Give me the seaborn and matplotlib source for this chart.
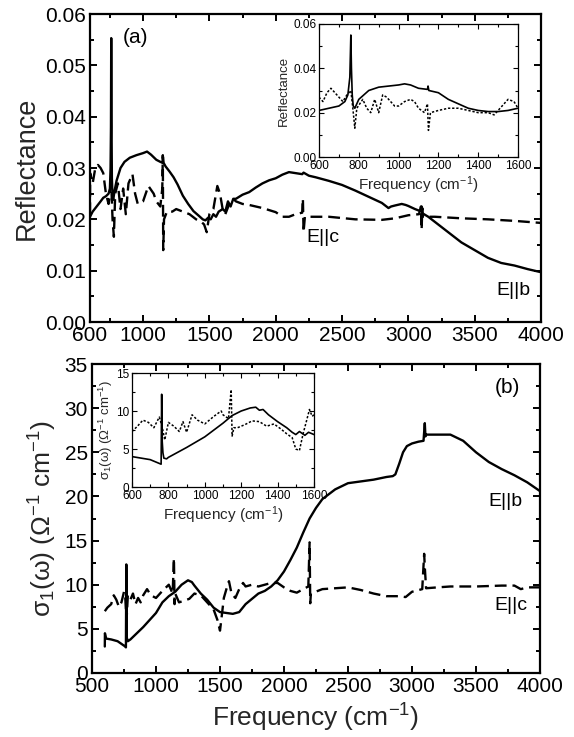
import numpy as np
import pandas as pd
import seaborn as sns
import matplotlib
matplotlib.use("Agg")
import matplotlib.pyplot as plt
from matplotlib.ticker import MultipleLocator, FixedLocator

# ---------------- data: panel (a) reflectance ----------------
ra_b_x = [600, 620, 650, 680, 700, 720, 740, 750, 755, 758, 760, 762, 765, 770, 775, 785, 800, 830, 860,
          900, 950, 1000, 1030, 1060, 1100, 1130, 1148, 1150, 1155, 1170, 1200, 1230, 1260, 1300, 1340,
          1380, 1420, 1450, 1470, 1490, 1510, 1530, 1550, 1570, 1600, 1620, 1640, 1660, 1680, 1700, 1750,
          1800, 1850, 1900, 1950, 2000, 2050, 2100, 2150, 2200, 2210, 2250, 2300, 2400, 2500, 2600, 2700,
          2800, 2850, 2870, 2900, 2950, 2980, 3000, 3050, 3090, 3100, 3105, 3150, 3200, 3300, 3400, 3500,
          3600, 3700, 3800, 3900, 4000]
ra_b_y = [0.0205, 0.0215, 0.0225, 0.0235, 0.0242, 0.0245, 0.0250, 0.0260, 0.0300, 0.0380, 0.0553, 0.0400,
          0.0280, 0.0245, 0.0238, 0.0255, 0.0275, 0.0300, 0.0312, 0.0320, 0.0325, 0.0329, 0.0332, 0.0326,
          0.0316, 0.0312, 0.0310, 0.0322, 0.0310, 0.0303, 0.0293, 0.0282, 0.0268, 0.0246, 0.0230, 0.0216,
          0.0207, 0.0200, 0.0198, 0.0203, 0.0200, 0.0210, 0.0205, 0.0215, 0.0220, 0.0215, 0.0235, 0.0225,
          0.0240, 0.0240, 0.0248, 0.0253, 0.0262, 0.0270, 0.0276, 0.0280, 0.0287, 0.0292, 0.0290, 0.0288,
          0.0291, 0.0285, 0.0282, 0.0275, 0.0267, 0.0256, 0.0244, 0.0232, 0.0222, 0.0225, 0.0227, 0.0230,
          0.0228, 0.0226, 0.0220, 0.0216, 0.0225, 0.0212, 0.0205, 0.0195, 0.0175, 0.0155, 0.0140, 0.0125,
          0.0115, 0.0110, 0.0103, 0.0097]

ra_c_x = [600, 601, 610, 620, 640, 660, 680, 700, 720, 740, 760, 770, 780, 790, 810, 830, 850, 870, 890,
          920, 940, 960, 1000, 1040, 1080, 1100, 1130, 1145, 1149, 1152, 1158, 1180, 1220, 1250, 1300, 1350,
          1400, 1440, 1460, 1480, 1500, 1530, 1560, 1580, 1600, 1620, 1650, 1680, 1700, 1750, 1800, 1900,
          2000, 2050, 2100, 2150, 2200, 2205, 2210, 2220, 2300, 2400, 2600, 2800, 2900, 3000, 3080, 3095,
          3100, 3105, 3110, 3200, 3400, 3600, 3800, 4000]
ra_c_y = [0.0210, 0.0290, 0.0280, 0.0270, 0.0300, 0.0306, 0.0300, 0.0290, 0.0250, 0.0230, 0.0270, 0.0200,
          0.0166, 0.0250, 0.0270, 0.0220, 0.0260, 0.0210, 0.0270, 0.0288, 0.0250, 0.0230, 0.0235, 0.0265,
          0.0250, 0.0235, 0.0225, 0.0260, 0.0325, 0.0140, 0.0200, 0.0215, 0.0215, 0.0220, 0.0215, 0.0210,
          0.0200, 0.0195, 0.0190, 0.0175, 0.0210, 0.0220, 0.0265, 0.0250, 0.0220, 0.0210, 0.0230, 0.0240,
          0.0235, 0.0230, 0.0228, 0.0222, 0.0214, 0.0205, 0.0205, 0.0210, 0.0213, 0.0240, 0.0175, 0.0205,
          0.0205, 0.0205, 0.0200, 0.0199, 0.0202, 0.0208, 0.0210, 0.0225, 0.0180, 0.0222, 0.0205, 0.0205,
          0.0202, 0.0200, 0.0197, 0.0193]

# inset (a): 600-1600
ia_b_x = [600, 650, 700, 730, 745, 755, 760, 763, 767, 772, 780, 800, 850, 900, 950, 1000, 1030, 1060,
          1100, 1145, 1148, 1152, 1200, 1250, 1300, 1350, 1400, 1450, 1500, 1550, 1600]
ia_b_y = [0.021, 0.022, 0.023, 0.025, 0.028, 0.036, 0.055, 0.040, 0.028, 0.023, 0.022, 0.026, 0.030,
          0.0315, 0.032, 0.0325, 0.033, 0.0325, 0.031, 0.0305, 0.032, 0.030, 0.029, 0.026, 0.024, 0.022,
          0.021, 0.0205, 0.0205, 0.021, 0.022]
ia_c_x = [600, 620, 640, 660, 680, 700, 720, 740, 760, 770, 780, 790, 820, 840, 860, 880, 900, 920, 940,
          960, 980, 1000, 1030, 1060, 1080, 1100, 1130, 1145, 1150, 1160, 1200, 1250, 1300, 1350, 1400,
          1450, 1480, 1500, 1530, 1550, 1580, 1600]
ia_c_y = [0.027, 0.025, 0.029, 0.031, 0.029, 0.027, 0.025, 0.028, 0.030, 0.022, 0.013, 0.022, 0.026,
          0.022, 0.020, 0.026, 0.020, 0.028, 0.027, 0.025, 0.023, 0.023, 0.025, 0.026, 0.025, 0.022, 0.020,
          0.024, 0.012, 0.020, 0.021, 0.022, 0.022, 0.021, 0.020, 0.020, 0.019, 0.021, 0.024, 0.026, 0.025,
          0.022]

# ---------------- data: panel (b) conductivity ----------------
sb_b_x = [600, 601, 610, 650, 700, 740, 760, 765, 768, 772, 780, 800, 900, 1000, 1050, 1100, 1150, 1200,
          1250, 1280, 1300, 1350, 1400, 1450, 1500, 1550, 1600, 1650, 1700, 1750, 1800, 1850, 1900, 1950,
          2000, 2050, 2100, 2150, 2200, 2250, 2300, 2400, 2500, 2600, 2700, 2800, 2850, 2870, 2900, 2930,
          2960, 3000, 3050, 3090, 3100, 3105, 3110, 3200, 3300, 3400, 3500, 3600, 3700, 3800, 3900, 4000]
sb_b_y = [3.0, 4.5, 3.9, 3.8, 3.6, 3.2, 3.0, 2.9, 12.3, 4.0, 3.6, 3.8, 5.2, 6.8, 8.0, 8.7, 9.2, 10.0,
          10.5, 10.3, 9.9, 9.0, 8.3, 7.4, 6.9, 6.8, 6.7, 6.9, 7.8, 8.4, 9.0, 9.3, 9.8, 10.5, 11.5, 12.8,
          14.2, 15.9, 17.5, 18.7, 19.7, 20.8, 21.5, 21.7, 21.9, 22.2, 22.3, 22.5, 23.7, 25.0, 25.7, 26.0,
          26.2, 26.3, 28.3, 26.8, 27.0, 27.0, 27.0, 26.3, 25.0, 23.9, 23.1, 22.4, 21.6, 20.6]

sb_c_x = [600, 620, 650, 670, 690, 710, 730, 750, 760, 770, 780, 800, 820, 840, 860, 880, 900, 930, 960,
          1000, 1050, 1100, 1130, 1140, 1145, 1150, 1180, 1220, 1260, 1300, 1350, 1400, 1450, 1480, 1500,
          1510, 1530, 1550, 1570, 1590, 1620, 1650, 1680, 1700, 1750, 1800, 1850, 1900, 1950, 2000, 2050,
          2100, 2150, 2190, 2200, 2205, 2210, 2300, 2400, 2500, 2600, 2700, 2800, 2900, 2950, 3000, 3080,
          3095, 3100, 3110, 3200, 3300, 3500, 3700, 3800, 3850, 3900, 4000]
sb_c_y = [7.0, 7.4, 7.8, 8.8, 8.3, 7.5, 8.0, 9.2, 8.5, 6.0, 8.8, 8.3, 9.0, 7.8, 8.5, 8.0, 8.8, 9.5, 8.8,
          8.5, 9.3, 10.0, 9.0, 13.0, 7.8, 9.0, 8.0, 8.2, 8.4, 9.0, 8.8, 8.0, 7.2, 6.0, 4.8, 6.0, 8.5, 9.5,
          10.4, 9.0, 8.5, 9.5, 10.2, 9.8, 10.0, 9.8, 10.0, 10.2, 10.2, 9.7, 9.3, 9.1, 9.5, 9.8, 14.8, 7.9,
          9.0, 9.5, 9.6, 9.7, 9.4, 9.0, 8.7, 8.7, 8.6, 9.2, 9.5, 13.5, 12.0, 9.6, 9.7, 9.8, 9.8, 9.9, 9.9,
          9.5, 9.7, 9.7]

# inset (b): 600-1600
ib_b_x = [600, 650, 700, 740, 760, 763, 766, 770, 775, 790, 800, 900, 1000, 1100, 1150, 1200, 1250, 1280,
          1300, 1320, 1350, 1400, 1450, 1480, 1500, 1520, 1550, 1570, 1600]
ib_b_y = [4.0, 3.8, 3.6, 3.2, 3.0, 12.2, 6.0, 4.5, 3.8, 3.7, 3.9, 5.2, 6.6, 8.4, 9.4, 10.0, 10.4, 10.5,
          10.1, 10.2, 9.5, 8.6, 7.8, 7.2, 6.9, 7.3, 6.8, 7.2, 6.9]
ib_c_x = [600, 630, 660, 690, 720, 750, 765, 780, 800, 830, 860, 880, 900, 930, 960, 1000, 1050, 1090,
          1100, 1130, 1145, 1150, 1160, 1180, 1220, 1260, 1300, 1340, 1380, 1420, 1450, 1480, 1500, 1520,
          1540, 1560, 1575, 1590, 1600]
ib_c_y = [7.3, 8.0, 8.8, 8.5, 7.8, 9.2, 8.0, 6.2, 8.5, 8.0, 7.3, 8.6, 7.2, 9.5, 8.8, 8.3, 9.3, 10.0,
          9.5, 9.0, 12.8, 6.7, 7.8, 7.8, 8.2, 8.7, 8.6, 8.0, 8.3, 7.6, 7.0, 6.5, 5.0, 4.8, 7.0, 8.8, 10.2,
          9.3, 9.5]

# ---------------- style ----------------
sns.set_theme(style="ticks")
plt.rcParams['font.family'] = ['Liberation Sans', 'DejaVu Sans']
plt.rcParams['mathtext.fontset'] = 'custom'
plt.rcParams['mathtext.rm'] = 'Liberation Sans'
plt.rcParams['mathtext.it'] = 'Liberation Sans'
plt.rcParams['mathtext.bf'] = 'Liberation Sans:bold'
plt.rcParams['axes.linewidth'] = 1.6
plt.rcParams['axes.edgecolor'] = 'black'
plt.rcParams['text.color'] = 'black'
plt.rcParams['xtick.color'] = 'black'
plt.rcParams['ytick.color'] = 'black'

fig = plt.figure(figsize=(5.74, 7.37), dpi=100)
W, H = 574, 737

def add_axes_px(l, t, r, b):
    return fig.add_axes([l / W, 1 - b / H, (r - l) / W, (b - t) / H])

def style_axes(ax, big=True):
    for s in ax.spines.values():
        s.set_visible(True)
        s.set_linewidth(1.6 if big else 0.9)
        s.set_color('black')
    ax.tick_params(which='both', direction='in', top=True, right=True,
                   width=1.4 if big else 0.8, colors='black')
    ax.tick_params(which='major', length=5 if big else 3.5,
                   labelsize=15 if big else 8.5, pad=3 if big else 2)
    ax.tick_params(which='minor', length=3 if big else 2)

def line(ax, x, y, dashed=False, lw=1.6, ls=None):
    df = pd.DataFrame({'x': x, 'y': y})
    kw = {}
    if ls is not None:
        kw['linestyle'] = ls
    elif dashed:
        kw['linestyle'] = (0, (5, 2.5))
    sns.lineplot(data=df, x='x', y='y', ax=ax, estimator=None, sort=False,
                 color='black', lw=lw, **kw)

# ---------------- panel (a) ----------------
axa = add_axes_px(90, 14, 541, 322)
line(axa, ra_b_x, ra_b_y, lw=1.7)
line(axa, ra_c_x, ra_c_y, dashed=True, lw=1.7)
axa.set_xlim(600, 4000)
axa.set_ylim(0, 0.06)
axa.xaxis.set_major_locator(FixedLocator([600, 1000, 1500, 2000, 2500, 3000, 3500, 4000]))
axa.xaxis.set_minor_locator(MultipleLocator(250))
axa.yaxis.set_major_locator(MultipleLocator(0.01))
axa.yaxis.set_minor_locator(MultipleLocator(0.005))
axa.yaxis.set_major_formatter(matplotlib.ticker.FormatStrFormatter('%.2f'))
style_axes(axa)
axa.set_xlabel('')
axa.set_ylabel('Reflectance', fontsize=19.5, labelpad=4)
axa.text(0.1, 0.955, '(a)', transform=axa.transAxes, fontsize=15, ha='center', va='top')
axa.text(2230, 0.0165, 'E||c', fontsize=14, ha='left', va='center')
axa.text(3660, 0.0062, 'E||b', fontsize=14, ha='left', va='center')

# inset (a)
iaa = add_axes_px(319, 24, 518, 157)
line(iaa, ia_b_x, ia_b_y, lw=1.2)
line(iaa, ia_c_x, ia_c_y, lw=1.1, ls=(0, (1.5, 1.2)))
iaa.set_xlim(600, 1600)
iaa.set_ylim(0, 0.06)
iaa.xaxis.set_major_locator(MultipleLocator(200))
iaa.xaxis.set_minor_locator(MultipleLocator(100))
iaa.yaxis.set_major_locator(MultipleLocator(0.02))
iaa.yaxis.set_minor_locator(MultipleLocator(0.01))
iaa.yaxis.set_major_formatter(matplotlib.ticker.FormatStrFormatter('%.2f'))
style_axes(iaa, big=False)
iaa.set_xlabel(r'Frequency (cm$^{-1}$)', fontsize=11, labelpad=2)
iaa.set_ylabel('Reflectance', fontsize=9.5, labelpad=2)

# ---------------- panel (b) ----------------
axb = add_axes_px(92, 364, 540, 673)
line(axb, sb_b_x, sb_b_y, lw=1.7)
line(axb, sb_c_x, sb_c_y, dashed=True, lw=1.7)
axb.set_xlim(500, 4000)
axb.set_ylim(0, 35)
axb.xaxis.set_major_locator(MultipleLocator(500))
axb.xaxis.set_minor_locator(MultipleLocator(250))
axb.yaxis.set_major_locator(MultipleLocator(5))
axb.yaxis.set_minor_locator(MultipleLocator(2.5))
style_axes(axb)
axb.set_xlabel(r'Frequency (cm$^{-1}$)', fontsize=19, labelpad=4)
axb.set_ylabel(r'$\sigma_1(\omega)$ ($\Omega^{-1}$ cm$^{-1}$)', fontsize=19, labelpad=4)
axb.text(0.955, 0.955, '(b)', transform=axb.transAxes, fontsize=15, ha='right', va='top')
axb.text(3595, 19.4, 'E||b', fontsize=14, ha='left', va='center')
axb.text(3640, 7.6, 'E||c', fontsize=14, ha='left', va='center')

# inset (b)
iab = add_axes_px(132, 373, 314, 487)
line(iab, ib_b_x, ib_b_y, lw=1.2)
line(iab, ib_c_x, ib_c_y, lw=1.1, ls=(0, (1.5, 1.2)))
iab.set_xlim(600, 1600)
iab.set_ylim(0, 15)
iab.xaxis.set_major_locator(MultipleLocator(200))
iab.xaxis.set_minor_locator(MultipleLocator(100))
iab.yaxis.set_major_locator(MultipleLocator(5))
iab.yaxis.set_minor_locator(MultipleLocator(2.5))
style_axes(iab, big=False)
iab.set_xlabel(r'Frequency (cm$^{-1}$)', fontsize=11, labelpad=2)
iab.set_ylabel(r'$\sigma_1(\omega)$ ($\Omega^{-1}$ cm$^{-1}$)', fontsize=9.5, labelpad=1)

fig.savefig('out.png', dpi=100)
